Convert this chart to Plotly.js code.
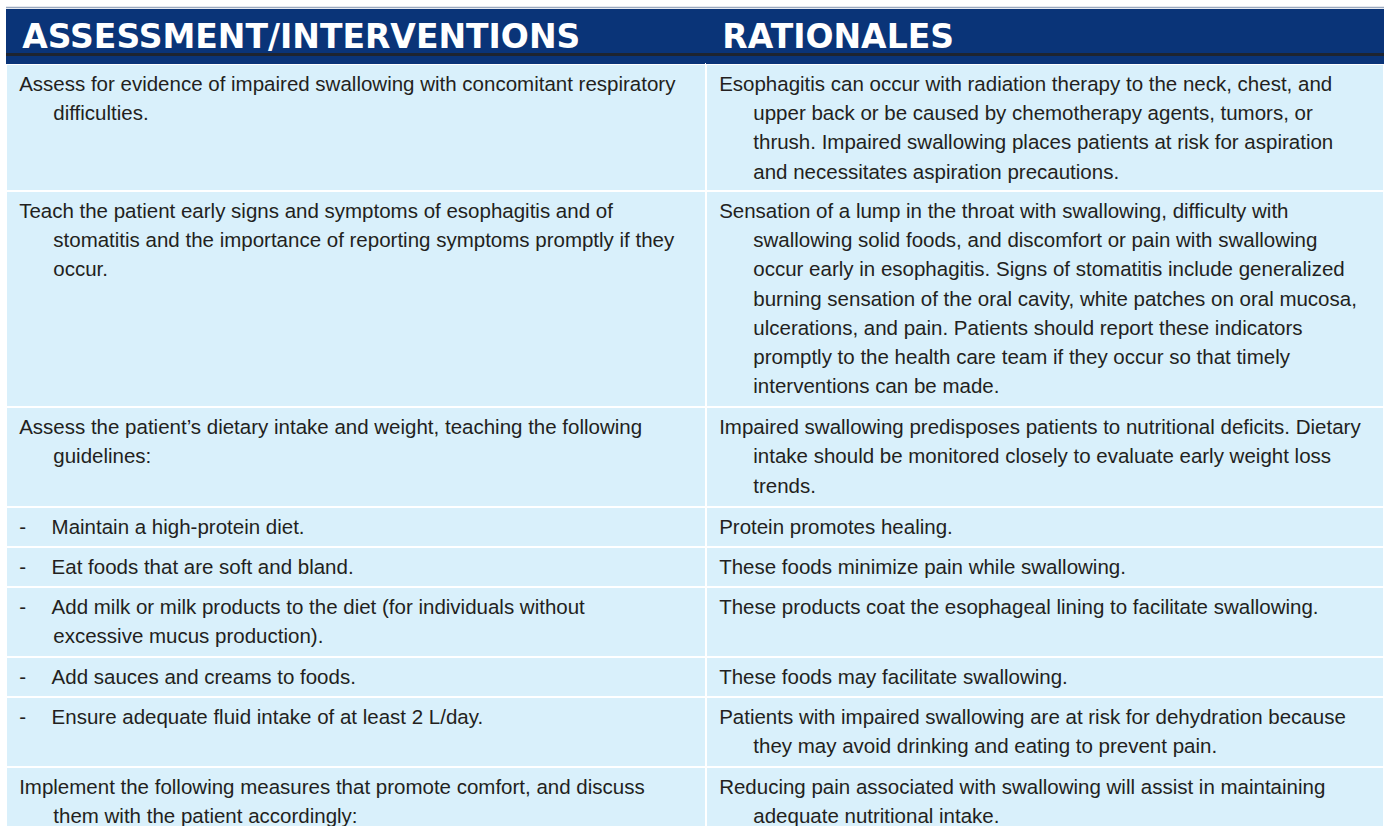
<!DOCTYPE html>
<html><head><meta charset="utf-8">
<script src="https://cdn.plot.ly/plotly-3.0.1.min.js"></script>
<style>html,body{margin:0;padding:0;overflow:hidden;background:#fff}</style>
</head><body><div id="chart" style="width:1384px;height:845px"></div>
<script>
const headers = ["ASSESSMENT/INTERVENTIONS", "RATIONALES"];

const interventions = [
  ["Assess for evidence of impaired swallowing with concomitant respiratory", "difficulties."],
  ["Teach the patient early signs and symptoms of esophagitis and of", "stomatitis and the importance of reporting symptoms promptly if they", "occur."],
  ["Assess the patient\u2019s dietary intake and weight, teaching the following", "guidelines:"],
  ["Maintain a high-protein diet."],
  ["Eat foods that are soft and bland."],
  ["Add milk or milk products to the diet (for individuals without", "excessive mucus production)."],
  ["Add sauces and creams to foods."],
  ["Ensure adequate fluid intake of at least 2 L/day."],
  ["Implement the following measures that promote comfort, and discuss", "them with the patient accordingly:"]
];

const bulletRows = [false, false, false, true, true, true, true, true, false];

const rationales = [
  ["Esophagitis can occur with radiation therapy to the neck, chest, and", "upper back or be caused by chemotherapy agents, tumors, or", "thrush. Impaired swallowing places patients at risk for aspiration", "and necessitates aspiration precautions."],
  ["Sensation of a lump in the throat with swallowing, difficulty with", "swallowing solid foods, and discomfort or pain with swallowing", "occur early in esophagitis. Signs of stomatitis include generalized", "burning sensation of the oral cavity, white patches on oral mucosa,", "ulcerations, and pain. Patients should report these indicators", "promptly to the health care team if they occur so that timely", "interventions can be made."],
  ["Impaired swallowing predisposes patients to nutritional deficits. Dietary", "intake should be monitored closely to evaluate early weight loss", "trends."],
  ["Protein promotes healing."],
  ["These foods minimize pain while swallowing."],
  ["These products coat the esophageal lining to facilitate swallowing."],
  ["These foods may facilitate swallowing."],
  ["Patients with impaired swallowing are at risk for dehydration because", "they may avoid drinking and eating to prevent pain."],
  ["Reducing pain associated with swallowing will assist in maintaining", "adequate nutritional intake."]
];

const BODY_PX = 20.5;
const PAD = "\u2005";
const INDENT = "\u2003\u2002\u2006";
const BULLET_GAP = "\u2003\u2005";
// invisible wider space that adds a little bottom padding to wrapped cells
const TAIL = "<span style=\"font-size:30px\">\u2005</span>";

function cellText(lines, bullet, rowIndex) {
  var out = lines.map(function (ln, i) {
    var t = (i === 0) ? PAD + (bullet ? "-" + BULLET_GAP : "") + ln : PAD + INDENT + ln;
    return "<span style=\"font-size:" + BODY_PX + "px\">" + t + "</span>";
  }).join("<br>");
  if (lines.length === 1) out += "<br>";
  else if (rowIndex > 0) out += TAIL;
  return out;
}

const leftCells = interventions.map(function (l, i) { return cellText(l, bulletRows[i], i); });
const rightCells = rationales.map(function (l, i) { return cellText(l, false, i); });

const NAVY = "#0a3478";
const H = 845, T = 9;
const plotH = H - T;
function py(Y) { return (H - Y) / plotH; }

const trace = {
  type: "table",
  columnwidth: [700, 678],
  header: {
    values: headers.map(function (h) { return "<b>" + PAD + h + "</b>"; }),
    align: "left",
    height: 44,
    fill: { color: NAVY },
    line: { color: NAVY, width: 0 },
    font: { family: "DejaVu Sans", size: 33, color: "#ffffff" }
  },
  cells: {
    values: [leftCells, rightCells],
    align: "left",
    height: 40,
    fill: { color: "#d9f0fb" },
    line: { color: "#ffffff", width: 2 },
    font: { family: "Liberation Sans, Arial, sans-serif", size: 22.5, color: "#231f20" }
  }
};

const layout = {
  width: 1384,
  height: H,
  margin: { l: 6, r: 0, t: T, b: 0 },
  paper_bgcolor: "#ffffff",
  shapes: [
    { type: "line", xref: "paper", yref: "paper", x0: 0, x1: 1, y0: py(7.5), y1: py(7.5), line: { color: "#9aa9bf", width: 1.5 } },
    { type: "line", xref: "paper", yref: "paper", x0: 0, x1: 1, y0: py(54.5), y1: py(54.5), line: { color: "#1e2430", width: 3 } }
  ]
};

Plotly.newPlot("chart", [trace], layout, { displayModeBar: false, staticPlot: true });
</script>
</body></html>
